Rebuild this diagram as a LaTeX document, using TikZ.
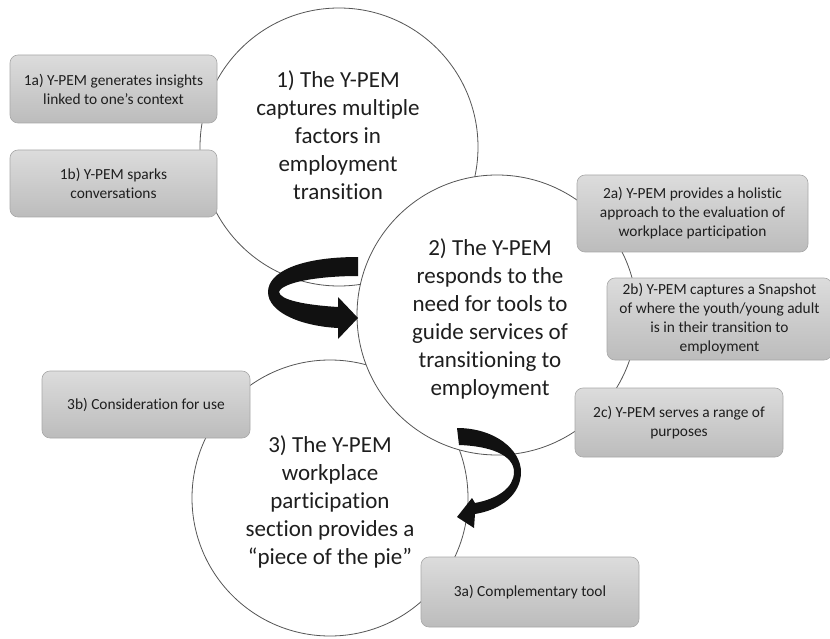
\documentclass[tikz,border=0pt]{standalone}
\usepackage{fontspec}
\setmainfont{Carlito}[Ligatures=NoCommon]
\usetikzlibrary{positioning,shapes}

\definecolor{ringline}{HTML}{555555}
\definecolor{boxtop}{HTML}{DCDCDC}
\definecolor{boxbot}{HTML}{BCBCBC}
\definecolor{boxline}{HTML}{A8A8A8}
\definecolor{inktext}{HTML}{1E1E1E}
\definecolor{inkblack}{HTML}{111111}

\begin{document}
\begin{tikzpicture}[x=1pt, y=-1pt,
  ring/.style={circle, draw=ringline, line width=0.8pt, fill=white, minimum size=#1},
  ringtext/.style={text=inktext, align=center, inner sep=0pt, font=\fontsize{23}{28}\selectfont},
  themebox/.style={rounded corners=8pt, draw=boxline, line width=0.6pt, top color=boxtop, bottom color=boxbot,
    text=inktext, align=center, inner sep=0pt, font=\fontsize{15.4}{19}\selectfont}]
\useasboundingbox (0,0) rectangle (830,639);

% Three overlapping circles (the middle one sits on top)
\node[ring=278pt] (c1) at (339,147) {};
\node[ring=276pt] (c3) at (330,498) {};
\node[ring=280pt] (c2) at (497,315) {};

\node[ringtext] (t1) at (338,135) {1) The Y-PEM\\captures multiple\\factors in\\employment\\transition};
\node[ringtext] (t2) at (490,319) {2) The Y-PEM\\responds to the\\need for tools to\\guide services of\\transitioning to\\employment};
\node[ringtext] (t3) at (330,502) {3) The Y-PEM\\workplace\\participation\\section provides a\\“piece of the pie”};

% Curled arrows from circle to circle
\fill[inkblack] (358,257) .. controls (300,257) and (268,272) .. (268,292)
  .. controls (268,312) and (300,326) .. (338,328) -- (338,339) -- (358,318) -- (338,297) -- (338,307)
  .. controls (305,305) and (280,300) .. (279,292) .. controls (282,282) and (320,276) .. (358,276) -- cycle;
\fill[inkblack] (457,428) .. controls (495,428) and (521,450) .. (521,472)
  .. controls (521,495) and (500,510) .. (475,514) -- (474,528) -- (457,517) -- (472,498) -- (475,503)
  .. controls (497,499) and (514,488) .. (514,472) .. controls (514,455) and (490,446) .. (459,445) -- cycle;

% Boxes for circle 1
\node[themebox, minimum width=207pt, minimum height=68pt] (b1a) at (113.5,89) {1a) Y-PEM generates insights\\linked to one’s context};
\node[themebox, minimum width=207pt, minimum height=67pt] (b1b) at (113.5,183.5) {1b) Y-PEM sparks\\conversations};

% Boxes for circle 2
\node[themebox, minimum width=231pt, minimum height=77pt] (b2a) at (692.5,213.5) {2a) Y-PEM provides a holistic\\approach to the evaluation of\\workplace participation};
\node[themebox, minimum width=225pt, minimum height=82pt] (b2b) at (719.5,319) {2b) Y-PEM captures a Snapshot\\of where the youth/young adult\\is in their transition to\\employment};
\node[themebox, minimum width=208pt, minimum height=69pt] (b2c) at (679,422.5) {2c) Y-PEM serves a range of\\purposes};

% Boxes for circle 3
\node[themebox, minimum width=208pt, minimum height=67pt] (b3b) at (146,404.5) {3b) Consideration for use};
\node[themebox, minimum width=218pt, minimum height=70pt] (b3a) at (530,592) {3a) Complementary tool};
\end{tikzpicture}
\end{document}
